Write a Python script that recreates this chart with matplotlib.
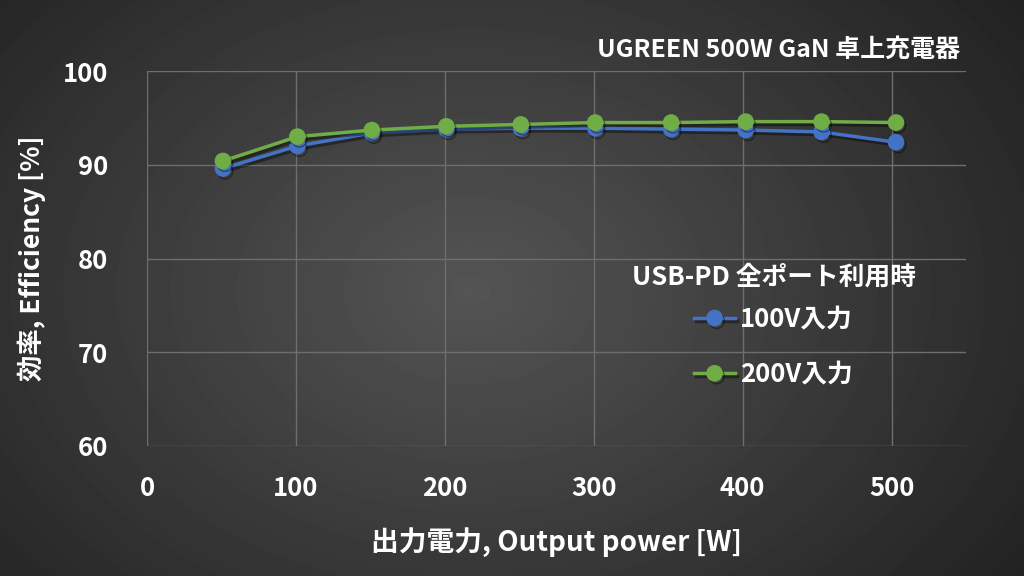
import numpy as np
import matplotlib.pyplot as plt
import matplotlib.patheffects as pe

plt.rcParams['font.family'] = ['Noto Sans CJK JP', 'DejaVu Sans']
plt.rcParams['font.weight'] = 'bold'

power = [51, 101, 151, 201, 251, 301, 352, 402, 453, 503]
eff_100v = [89.6, 92.0, 93.4, 93.8, 93.9, 93.9, 93.8, 93.7, 93.5, 92.4]
eff_200v = [90.4, 93.0, 93.7, 94.1, 94.3, 94.5, 94.5, 94.6, 94.6, 94.5]
x_ticks = [0, 100, 200, 300, 400, 500]
y_ticks = [60, 70, 80, 90, 100]

fig = plt.figure(figsize=(10.24, 5.76), dpi=100)

# radial gradient background
bg = fig.add_axes([0, 0, 1, 1], zorder=-1)
yy, xx = np.mgrid[0:576, 0:1024]
r = np.sqrt(((xx - 470) / 650.0) ** 2 + ((yy - 290) / 480.0) ** 2)
shade = np.clip(0.33 - 0.19 * r, 0.13, 0.33)
bg.imshow(shade, cmap='gray', vmin=0, vmax=1, aspect='auto')
bg.axis('off')

ax = fig.add_axes([147 / 1024, 1 - 446 / 576, 819 / 1024, 375 / 576])
ax.set_facecolor('none')

shadow = [pe.SimpleLineShadow(offset=(1.5, -2), alpha=0.4), pe.Normal()]
ax.plot(power, eff_100v, color='#4472C4', lw=2.5, marker='o', ms=11,
        label='100V入力', path_effects=shadow, zorder=3)
ax.plot(power, eff_200v, color='#70AD47', lw=2.5, marker='o', ms=11,
        label='200V入力', path_effects=shadow, zorder=4)

ax.set_xlim(0, 550)
ax.set_ylim(60, 100)
ax.set_xticks(x_ticks)
ax.set_yticks(y_ticks)
ax.grid(True, color='#6e6e6e', lw=1)
for s in ax.spines.values():
    s.set_visible(False)
ax.tick_params(length=0, colors='white', labelsize=18.5)
ax.tick_params(axis='x', pad=21)
ax.tick_params(axis='y', pad=28)
for lab in ax.get_xticklabels() + ax.get_yticklabels():
    lab.set_fontweight('bold')

ax.set_xlabel('出力電力, Output power [W]', color='white', fontsize=20,
              fontweight='bold', labelpad=18)
ax.set_ylabel('効率, Efficiency [%]', color='white', fontsize=19,
              fontweight='bold', labelpad=12)

fig.text(960 / 1024, 1 - 50 / 576, 'UGREEN 500W GaN 卓上充電器', color='white',
         fontsize=18, fontweight='bold', ha='right', va='center')

leg = ax.legend(title='USB-PD 全ポート利用時', frameon=False, loc='center',
                bbox_to_anchor=(0.765, 0.32), labelcolor='white',
                prop={'size': 18.5, 'weight': 'bold'}, handlelength=1.6,
                handletextpad=0.2, labelspacing=1.1)
leg.get_title().set_color('white')
leg.get_title().set_fontsize(18.5)
leg.get_title().set_fontweight('bold')
leg._legend_box.sep = 11

fig.savefig('out.png', dpi=100)
